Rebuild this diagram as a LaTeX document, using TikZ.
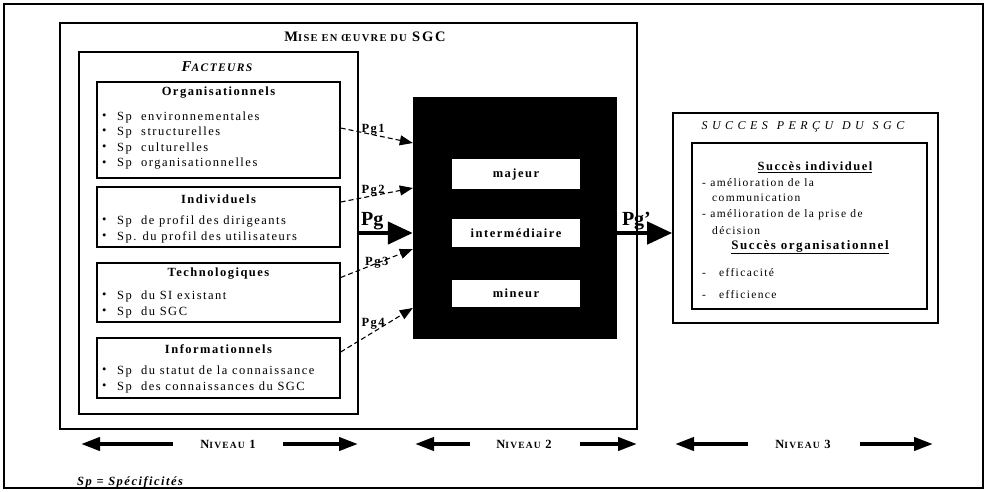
\documentclass[tikz,border=0pt]{standalone}
\usepackage{fontspec}
\setmainfont{Liberation Serif}[LetterSpace=12]
\usetikzlibrary{arrows.meta}
\newcommand\smc[1]{{\fontsize{10.5}{11}\selectfont #1}}
\begin{document}
\begin{tikzpicture}[x=1pt,y=-1pt,
  frame/.style={draw, line width=1.6pt, inner sep=0pt},
  box/.style={draw, line width=1.4pt, inner sep=0pt},
  wbox/.style={fill=white, inner sep=0pt, minimum width=128pt, font=\bfseries\fontsize{12.5}{14}\selectfont},
  item/.style={inner sep=0pt, anchor=west, font=\fontsize{12.5}{14}\selectfont},
  sitem/.style={inner sep=0pt, anchor=west, font=\fontsize{11.5}{13}\selectfont},
  head/.style={inner sep=0pt, font=\bfseries\fontsize{12.5}{14}\selectfont},
  pglbl/.style={inner sep=0pt, font=\bfseries\fontsize{12.5}{14}\selectfont},
  bigpg/.style={inner sep=0pt, font=\bfseries\fontsize{20}{22}\selectfont\addfontfeatures{LetterSpace=0}},
  dasharrow/.style={line width=1.1pt, dash pattern=on 5pt off 3pt, -{Triangle[length=13pt,width=10pt]}},
  bigarrow/.style={line width=4.5pt, -{Triangle[length=25pt,width=22pt]}},
  lvlarrow/.style={line width=4pt, -{Triangle[length=19pt,width=13pt]}},
  lvl/.style={inner sep=0pt, font=\bfseries\fontsize{12.5}{14}\selectfont}]
\useasboundingbox (0,0) rectangle (988,491);

% outer frame
\node[frame, minimum width=979pt, minimum height=484pt] (outer) at (493.5,246) {};

% implementation block
\node[frame, minimum width=577pt, minimum height=406pt] (mise) at (348.5,226) {};
\node[head, font=\bfseries\fontsize{14.5}{15}\selectfont] (tmise) at (365,37) {M\smc{ISE EN ŒUVRE DU} SGC};

% factors
\node[box, minimum width=279pt, minimum height=362pt] (fact) at (218.5,233) {};
\node[head, font=\bfseries\itshape\fontsize{15}{16}\selectfont] (tfact) at (217,67) {F{\fontsize{11.5}{12}\selectfont ACTEURS}};

\node[box, minimum width=243pt, minimum height=96pt] (org) at (218.5,130) {};
\node[head] (torg) at (218.5,93) {Organisationnels};
\foreach \y/\t [count=\i] in {117/environnementales, 132/structurelles, 148/culturelles, 164/organisationnelles}{
  \node[item] (ob\i) at (102,\y) {•};
  \node[item] (ot\i) at (117,\y) {Sp\ \ \t};
}

\node[box, minimum width=243pt, minimum height=60pt] (ind) at (218.5,217) {};
\node[head] (tind) at (218.5,199) {Individuels};
\node[item] (ib1) at (102,221) {•};
\node[item] (it1) at (117,221) {Sp\ \ de profil des dirigeants};
\node[item] (ib2) at (102,237) {•};
\node[item] (it2) at (117,237) {Sp. du profil des utilisateurs};

\node[box, minimum width=243pt, minimum height=59pt] (tech) at (218.5,292.5) {};
\node[head] (ttech) at (218.5,274) {Technologiques};
\node[item] (tb1) at (102,296) {•};
\node[item] (tt1) at (117,296) {Sp\ \ du SI existant};
\node[item] (tb2) at (102,312) {•};
\node[item] (tt2) at (117,312) {Sp\ \ du SGC};

\node[box, minimum width=243pt, minimum height=60pt] (info) at (218.5,368) {};
\node[head] (tinfo) at (218.5,349) {Informationnels};
\node[item] (nb1) at (102,371) {•};
\node[item] (nt1) at (117,371) {Sp\ \ du statut de la connaissance};
\node[item] (nb2) at (102,387) {•};
\node[item] (nt2) at (117,387) {Sp\ \ des connaissances du SGC};

% degree block
\node[fill=black, inner sep=0pt, minimum width=204pt, minimum height=242pt] (black) at (515,218) {};
\node[wbox, minimum height=30pt] (majeur) at (516,174) {majeur};
\node[wbox, minimum height=28pt] (inter) at (516,233) {intermédiaire};
\node[wbox, minimum height=27pt] (mineur) at (516,293.5) {mineur};

% perceived success
\node[frame, minimum width=265pt, minimum height=210pt] (succ) at (805.5,218) {};
\node[inner sep=0pt, font=\itshape\fontsize{12}{13}\selectfont] (tsucc) at (803,127) {S U C C E S\ \ P E R Ç U\ \ D U\ \ S G C};
\node[box, minimum width=235pt, minimum height=166pt] (succin) at (809.5,226) {};
\node[head] (tsi) at (815,167) {\underline{Succès individuel}};
\node[sitem] (s1) at (702,183) {- amélioration de la};
\node[sitem] (s2) at (712,198) {communication};
\node[sitem] (s3) at (702,215) {- amélioration de la prise de};
\node[sitem] (s4) at (712,231) {décision};
\node[head, font=\bfseries\fontsize{13}{14}\selectfont] (tso) at (810,247) {\underline{Succès organisationnel}};
\node[sitem] (e1) at (702,273) {-\hspace{13pt}efficacité};
\node[sitem] (e2) at (702,295) {-\hspace{13pt}efficience};

% influence arrows
\draw[dasharrow] ([yshift=2pt]org.east) -- ([yshift=75pt]black.west)
  node[pglbl, pos=0.45, above=-1pt] {Pg1};
\draw[dasharrow] ([yshift=15pt]ind.east) -- ([yshift=30pt]black.west)
  node[pglbl, pos=0.45, above=-1pt] {Pg2};
\draw[bigarrow] (fact.east) -- ([yshift=-15pt]black.west)
  node[bigpg, pos=0.25, above=1pt] {Pg};
\draw[dasharrow] ([yshift=15pt]tech.east) -- ([yshift=-31pt]black.west)
  node[pglbl, pos=0.5, above=-6pt] {Pg3};
\draw[dasharrow] ([yshift=16pt]info.east) -- ([yshift=-90pt]black.west)
  node[pglbl, pos=0.45, above=2pt] {Pg4};
\draw[bigarrow] ([yshift=-15pt]black.east) -- ([yshift=-15pt]succ.west)
  node[bigpg, pos=0.35, above=1pt] {Pg'};

% levels
\node[lvl] (n1) at (228,444) {N{\fontsize{9.5}{11}\selectfont IVEAU} 1};
\node[lvl] (n2) at (524,444) {N{\fontsize{9.5}{11}\selectfont IVEAU} 2};
\node[lvl] (n3) at (803,444) {N{\fontsize{9.5}{11}\selectfont IVEAU} 3};
\coordinate (a1l) at (173,444); \coordinate (a1le) at (81,444);
\coordinate (a1r) at (283,444); \coordinate (a1re) at (358,444);
\coordinate (a2l) at (470,444); \coordinate (a2le) at (415,444);
\coordinate (a2r) at (580,444); \coordinate (a2re) at (637,444);
\coordinate (a3l) at (748,444); \coordinate (a3le) at (675,444);
\coordinate (a3r) at (860,444); \coordinate (a3re) at (933,444);
\draw[lvlarrow] (a1l) -- (a1le);
\draw[lvlarrow] (a1r) -- (a1re);
\draw[lvlarrow] (a2l) -- (a2le);
\draw[lvlarrow] (a2r) -- (a2re);
\draw[lvlarrow] (a3l) -- (a3le);
\draw[lvlarrow] (a3r) -- (a3re);

% legend
\node[item, font=\bfseries\itshape\fontsize{12.5}{14}\selectfont] (legend) at (77,482) {Sp = Spécificités};
\end{tikzpicture}
\end{document}
